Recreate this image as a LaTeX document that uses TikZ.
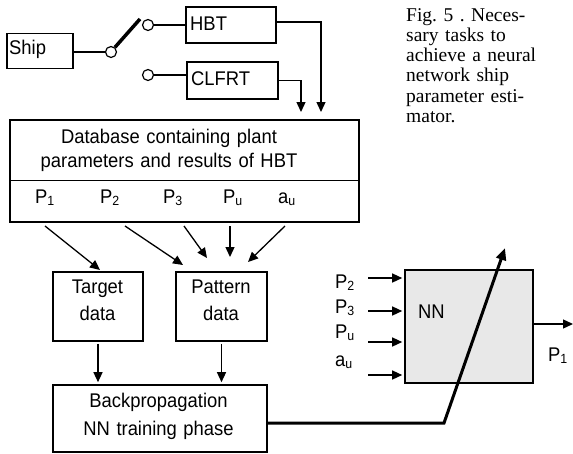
\documentclass[tikz,border=0pt]{standalone}
\usepackage{fontspec}
\setmainfont{Liberation Sans}[FakeStretch=0.93]
\newfontfamily\capfont{Liberation Serif}
\usetikzlibrary{arrows.meta,calc}
\definecolor{nnfill}{RGB}{232,232,232}
\newcommand\sbs[1]{\raisebox{-2.2pt}{\fontsize{13.3}{13.3}\selectfont #1}}
\frenchspacing
\begin{document}
\begin{tikzpicture}[x=1pt,y=-1pt,
 box/.style={draw, line width=1.6pt, rectangle, inner sep=0pt},
 txt/.style={inner sep=0pt, font=\fontsize{19.8}{24.4}\selectfont},
 txtb/.style={inner sep=0pt, font=\fontsize{19.8}{26.7}\selectfont},
 ln/.style={line width=1.1pt},
 arr/.style={line width=1.3pt, -{Triangle[length=10pt,width=9pt]}},
 circ/.style={draw, circle, line width=1.2pt, minimum size=11pt, inner sep=0pt, fill=white},
]
\useasboundingbox (0,0) rectangle (573,453);

% boxes
\node[box, minimum width=66pt, minimum height=35pt] (ship) at (40,51) {};
\node[box, minimum width=90pt, minimum height=36pt] (hbt) at (231,25) {};
\node[box, minimum width=91pt, minimum height=37pt] (clfrt) at (232.5,80.5) {};
\node[box, minimum width=349pt, minimum height=102pt] (db) at (184.5,171) {};
\node[box, minimum width=90pt, minimum height=69pt] (target) at (98,306.5) {};
\node[box, minimum width=91pt, minimum height=69pt] (pattern) at (221.5,306.5) {};
\node[box, minimum width=214pt, minimum height=67pt] (bp) at (160,418.5) {};
\node[box, fill=nnfill, minimum width=128pt, minimum height=113pt] (nn) at (469,326.5) {};
\draw[line width=1.6pt] (db.west |- 0,180.5) -- (db.east |- 0,180.5);

% switch
\node[circ] (c1) at (111,52) {};
\node[circ] (c2) at (148,25) {};
\node[circ] (c3) at (148,75) {};
\coordinate (swend) at (140,19);
\draw[ln] (ship.east |- c1) -- (c1.west);
\draw[line width=3.5pt] (c1.50) -- (swend);
\draw[ln] (c2.east) -- (hbt.west |- c2);
\draw[ln] (c3.east) -- (clfrt.west |- c3);

% into database
\coordinate (tipH) at (321,112);
\coordinate (tipC) at (301,112);
\draw[arr] ($(hbt.east)+(0,-3)$) -| (tipH);
\draw[arr] (clfrt.east) -| (tipC);

% from database
\coordinate (s1) at (45,226);
\coordinate (s2) at (125,226);
\coordinate (s3) at (184,226);
\coordinate (s4) at (230,226);
\coordinate (s5) at (285,226);
\coordinate (t1) at (100,270);
\coordinate (t2) at (183,265);
\coordinate (t3) at (207,258);
\coordinate (t4) at (230,257);
\coordinate (t5) at (248,262);
\draw[arr] (s1) -- (t1);
\draw[arr] (s2) -- (t2);
\draw[arr] (s3) -- (t3);
\draw[arr] (s4) -- (t4);
\draw[arr] (s5) -- (t5);

\draw[arr, shorten <=2pt, shorten >=2pt] (target.south) -- (target.south |- bp.north);
\draw[arr, shorten <=2pt, shorten >=2pt] (pattern.south) -- (pattern.south |- bp.north);

% training line
\coordinate (bend) at (444,423);
\coordinate (nntip) at (505,248);
\draw[line width=3pt, -{Triangle[length=12pt,width=10pt]}] (bp.east |- bend) -- (bend) -- (nntip);

% NN inputs / output
\coordinate (i1) at (368,278);
\coordinate (i2) at (368,311);
\coordinate (i3) at (368,342);
\coordinate (i4) at (368,375);
\draw[arr, shorten >=2pt] (i1) -- (nn.west |- i1);
\draw[arr, shorten >=2pt] (i2) -- (nn.west |- i2);
\draw[arr, shorten >=2pt] (i3) -- (nn.west |- i3);
\draw[arr, shorten >=2pt] (i4) -- (nn.west |- i4);
\coordinate (out) at (573,324);
\draw[arr] (nn.east |- out) -- (out);

% texts
\node[txt, anchor=base west] (tship) at (9,54.3) {Ship};
\node[txt, anchor=base west] (thbt) at (190,30) {HBT};
\node[txt, anchor=base west] (tclfrt) at (191,85) {CLFRT};
\node[txt, anchor=base, text width=320pt, align=center] (tdb) at (169,143.3) {Database containing plant\\parameters and results of HBT};
\node[txt, anchor=base west] (dp1) at (35,203.3) {P\sbs{1}};
\node[txt, anchor=base west] (dp2) at (100,203.3) {P\sbs{2}};
\node[txt, anchor=base west] (dp3) at (163,203.3) {P\sbs{3}};
\node[txt, anchor=base west] (dpu) at (223,203.3) {P\sbs{u}};
\node[txt, anchor=base west] (dau) at (278,203.3) {a\sbs{u}};
\node[txtb, anchor=base, text width=90pt, align=center] (ttarget) at (97.5,293.3) {Target\\data};
\node[txtb, anchor=base, text width=90pt, align=center] (tpattern) at (221,293.3) {Pattern\\data};
\node[txt, anchor=base, text width=210pt, align=center, font=\fontsize{19.8}{27.7}\selectfont] (tbp) at (158.5,407.3) {Backpropagation\\NN training phase};
\node[txt, anchor=base west] (tnn) at (418,318) {NN};
\node[txt, anchor=base west] (np2) at (335,288) {P\sbs{2}};
\node[txt, anchor=base west] (np3) at (335,313) {P\sbs{3}};
\node[txt, anchor=base west] (npu) at (335,338) {P\sbs{u}};
\node[txt, anchor=base west] (nau) at (335,366) {a\sbs{u}};
\node[txt, anchor=base west] (np1) at (548,361.7) {P\sbs{1}};
\node[inner sep=0pt, anchor=base west, text width=170pt, align=left, font=\capfont\fontsize{19.5}{20.3}\selectfont\frenchspacing] (cap) at (406,21) {Fig. 5 . Neces-\\sary tasks to\\achieve a neural\\network ship\\parameter esti-\\mator.};
\end{tikzpicture}
\end{document}
